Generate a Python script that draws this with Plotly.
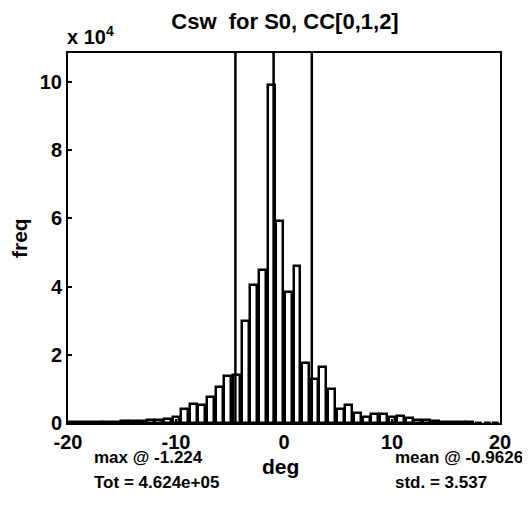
import plotly.graph_objects as go

# bin centres (deg), bin width 0.8 over [-20, 20]
bin_centers = [round(-19.6 + 0.8 * k, 2) for k in range(50)]
# frequencies (counts)
freq = [200, 200, 300, 300, 400, 400, 500, 600, 700, 800,
        1000, 1300, 1800, 4000, 5500, 5200, 7700, 10500, 13700, 14000,
        30000, 40500, 45000, 99000, 59200, 38500, 46000, 17700, 13000, 16300,
        10000, 4200, 5400, 3000, 1700, 2700, 2700, 1700, 2100, 1500,
        1000, 800, 600, 400, 300, 200, 200, 100, 100, 100]

y_ticks = [0, 2, 4, 6, 8, 10]
x_ticks = [-20, -10, 0, 10, 20]

max_at = -1.224
mean_val = -0.9626
std_val = 3.537
total = 4.624e5

FONT = "Liberation Sans"

# page body has an 8px margin, so the figure is drawn 8px smaller
W, H = 522, 499
L, T, R, B = 60, 45, 30, 84
PW, PH = W - L - R, H - T - B

fig = go.Figure()
fig.add_trace(go.Bar(
    x=bin_centers, y=freq, width=0.64,
    marker=dict(color="white", line=dict(color="black", width=2.5)),
    showlegend=False,
))

ymax = 108500
for xv in [mean_val - std_val, mean_val, mean_val + std_val]:
    fig.add_shape(type="line", x0=xv, x1=xv, y0=0, y1=ymax,
                  xref="x", yref="y", line=dict(color="black", width=2.5))

fig.update_layout(
    width=W, height=H,
    margin=dict(l=L, r=R, t=T, b=B),
    paper_bgcolor="white", plot_bgcolor="white",
    font=dict(family=FONT, color="black", size=20, weight="bold"),
    bargap=0,
    title=dict(text="Csw  for S0, CC[0,1,2]", x=277 / W, xanchor="center",
               yref="container", y=1 - 13 / H, yanchor="middle",
               font=dict(size=22, family=FONT, weight="bold")),
)
fig.update_xaxes(
    range=[-20, 20], tickvals=x_ticks, ticktext=[str(v) for v in x_ticks],
    ticks="inside", ticklen=4, tickwidth=1.5, tickcolor="black",
    showline=True, linecolor="black", linewidth=2, mirror=True,
    showgrid=False, zeroline=False,
    tickfont=dict(size=20, family=FONT, weight="bold"),
)
fig.update_yaxes(
    range=[0, ymax], tickvals=[v * 1e4 for v in y_ticks], ticktext=[str(v) for v in y_ticks],
    ticks="inside", ticklen=4, tickwidth=1.5, tickcolor="black",
    showline=True, linecolor="black", linewidth=2, mirror=True,
    showgrid=False, zeroline=False,
    tickfont=dict(size=20, family=FONT, weight="bold"),
)


def px(xf):
    return (xf - L) / PW


def py(yf):
    return (H - B - yf) / PH


ann_font = dict(size=17, family=FONT, weight="bold", color="black")
fig.add_annotation(text="x 10<sup>4</sup>", xref="paper", yref="paper",
                   x=px(57), y=py(27), xanchor="left", yanchor="middle",
                   showarrow=False, font=dict(size=20, family=FONT, weight="bold"))
fig.add_annotation(text="freq", xref="paper", yref="paper", x=px(11), y=0.5,
                   textangle=-90, showarrow=False, xanchor="center", yanchor="middle",
                   font=dict(size=21, family=FONT, weight="bold"))
fig.add_annotation(text="deg", xref="paper", yref="paper", x=px(272), y=py(458),
                   showarrow=False, xanchor="center", yanchor="middle",
                   font=dict(size=21, family=FONT, weight="bold"))
fig.add_annotation(text=f"max @ {max_at}", xref="paper", yref="paper",
                   x=px(84), y=py(449), xanchor="left", yanchor="middle",
                   showarrow=False, font=ann_font)
fig.add_annotation(text=f"Tot = {total:.3e}", xref="paper", yref="paper",
                   x=px(84), y=py(474), xanchor="left", yanchor="middle",
                   showarrow=False, font=ann_font)
fig.add_annotation(text=f"mean @ {mean_val}", xref="paper", yref="paper",
                   x=px(385), y=py(449), xanchor="left", yanchor="middle",
                   showarrow=False, font=ann_font)
fig.add_annotation(text=f"std. = {std_val}", xref="paper", yref="paper",
                   x=px(385), y=py(474), xanchor="left", yanchor="middle",
                   showarrow=False, font=ann_font)

fig.write_html("out.html")
